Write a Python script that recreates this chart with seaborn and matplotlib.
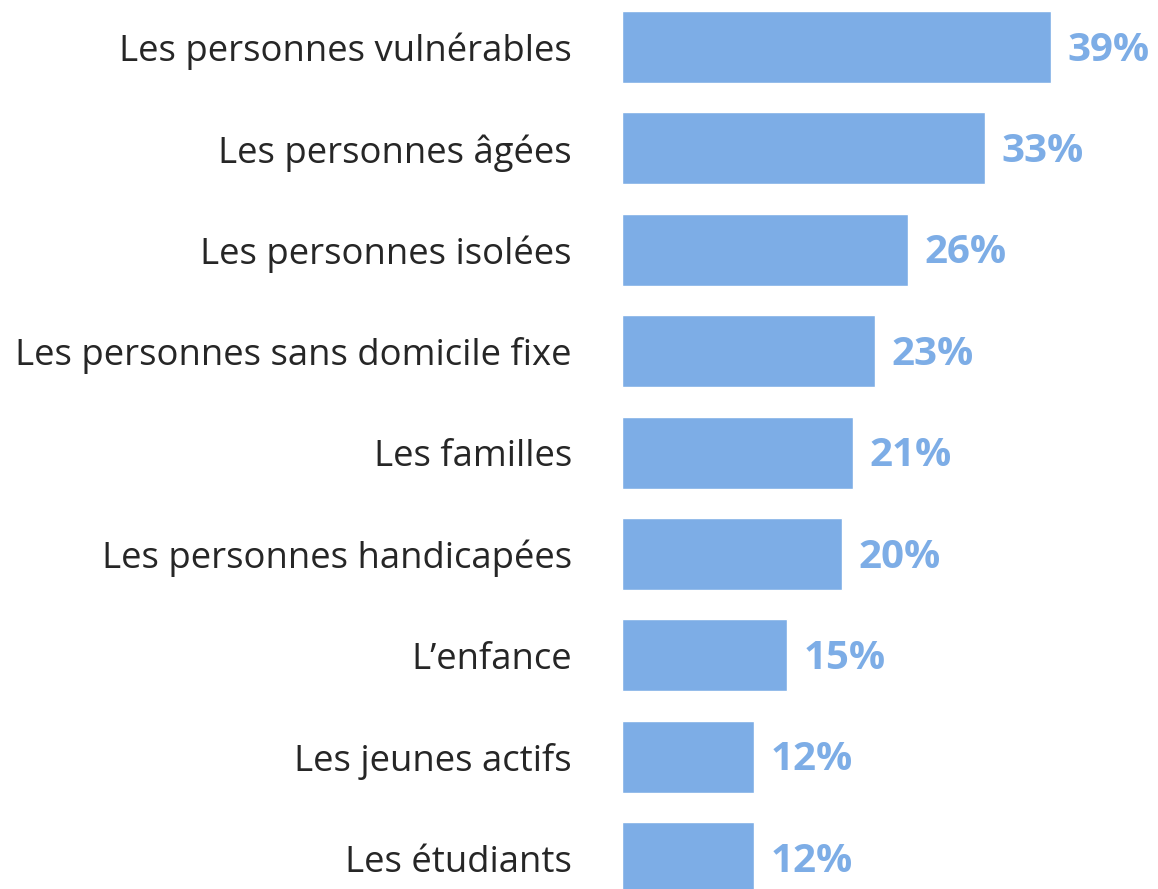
import seaborn as sns
import matplotlib.pyplot as plt
import pandas as pd

# donnees
categories = ["Les personnes vulnérables", "Les personnes âgées", "Les personnes isolées",
              "Les personnes sans domicile fixe", "Les familles", "Les personnes handicapées",
              "L\u2019enfance", "Les jeunes actifs", "Les étudiants"]
valeurs = [39, 33, 26, 23, 21, 20, 15, 12, 12]

df = pd.DataFrame({"categorie": categories, "valeur": valeurs})

sns.set_style("white")
plt.rcParams["font.family"] = ["Open Sans", "DejaVu Sans"]

bleu = "#7DADE6"

fig = plt.figure(figsize=(11.58, 8.89), dpi=100)
ax = fig.add_axes([622 / 1158, 0, 1 - 622 / 1158, 1])

sns.barplot(data=df, x="valeur", y="categorie", color=bleu, saturation=1, width=0.71, ax=ax)

for i, v in enumerate(valeurs):
    ax.text(v + 1.5, i + 0.03, f"{v}%", va="center", ha="left", fontsize=29,
            fontweight="bold", color=bleu)

ax.set_xlim(0, 48.7)
ax.set_ylim(8.304, -0.4635)
ax.set_xlabel("")
ax.set_ylabel("")
ax.set_xticks([])
ax.tick_params(axis="y", length=0, pad=36, labelsize=26.3, labelcolor="#262626")
sns.despine(ax=ax, left=True, bottom=True)

plt.savefig("out.png", dpi=100)
